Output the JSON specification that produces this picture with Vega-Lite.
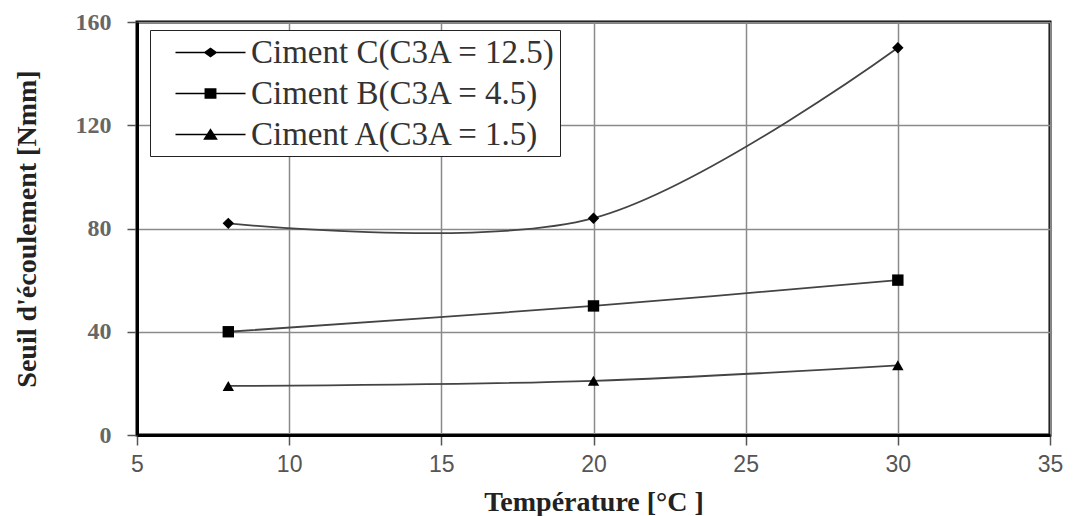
{
  "$schema": "https://vega.github.io/schema/vega-lite/v6.json",
  "autosize": "none",
  "width": 913,
  "height": 413,
  "padding": {"left": 137, "top": 22, "right": 24, "bottom": 81},
  "background": "white",
  "config": {
    "view": {"stroke": "black", "strokeWidth": 3},
    "axis": {"gridColor": "#8a8a8a", "gridWidth": 1.5, "gridOpacity": 1, "domainColor": "black", "domainWidth": 3, "tickColor": "#555", "tickWidth": 1.5, "tickSize": 10}
  },
  "data": {
    "values": [
      {"serie": "Ciment C(C3A = 12.5)", "t": 8, "v": 82},
      {"serie": "Ciment C(C3A = 12.5)", "t": 20, "v": 84},
      {"serie": "Ciment C(C3A = 12.5)", "t": 30, "v": 150},
      {"serie": "Ciment B(C3A = 4.5)", "t": 8, "v": 40},
      {"serie": "Ciment B(C3A = 4.5)", "t": 20, "v": 50},
      {"serie": "Ciment B(C3A = 4.5)", "t": 30, "v": 60},
      {"serie": "Ciment A(C3A = 1.5)", "t": 8, "v": 19},
      {"serie": "Ciment A(C3A = 1.5)", "t": 20, "v": 21},
      {"serie": "Ciment A(C3A = 1.5)", "t": 30, "v": 27}
    ]
  },
  "encoding": {
    "x": {
      "field": "t", "type": "quantitative",
      "scale": {"domain": [5, 35], "nice": false, "zero": false},
      "axis": {"values": [5, 10, 15, 20, 25, 30, 35], "title": "Température [°C ]", "titleFont": "Liberation Serif", "titleFontSize": 28, "titleFontWeight": "bold", "titleColor": "#222", "titlePadding": 12, "labelFont": "Liberation Sans", "labelFontSize": 23, "labelColor": "#555", "labelPadding": 8, "labelFlush": false}
    },
    "y": {
      "field": "v", "type": "quantitative",
      "scale": {"domain": [0, 160], "nice": false},
      "axis": {"values": [0, 40, 80, 120, 160], "title": "Seuil d'écoulement [Nmm]", "titleFont": "Liberation Serif", "titleFontSize": 28, "titleFontWeight": "bold", "titleColor": "#222", "titlePadding": 34, "labelFont": "Liberation Serif", "labelFontSize": 24, "labelFontWeight": "bold", "labelColor": "#666", "labelPadding": 16}
    }
  },
  "resolve": {"scale": {"shape": "independent"}, "legend": {"shape": "independent"}},
  "layer": [
    {
      "mark": {"type": "line", "interpolate": "catmull-rom", "color": "#444", "strokeWidth": 1.8},
      "encoding": {"detail": {"field": "serie"}}
    },
    {
      "mark": {"type": "point", "filled": true, "color": "black", "opacity": 1, "size": 130},
      "encoding": {
        "shape": {
          "field": "serie", "type": "nominal",
          "scale": {"domain": ["Ciment C(C3A = 12.5)", "Ciment B(C3A = 4.5)", "Ciment A(C3A = 1.5)"], "range": ["diamond", "square", "triangle-up"]},
          "legend": null
        }
      }
    },
    {
      "data": {"values": []},
      "mark": {"type": "point", "filled": true, "color": "black", "opacity": 1},
      "encoding": {
        "shape": {
          "field": "serie", "type": "nominal",
          "scale": {"domain": ["Ciment C(C3A = 12.5)", "Ciment B(C3A = 4.5)", "Ciment A(C3A = 1.5)"], "range": ["M-2,-0.045L2,-0.045L2,0.045L-2,0.045ZM0,-0.29L0.4,0L0,0.29L-0.4,0Z", "M-2,-0.045L2,-0.045L2,0.045L-2,0.045ZM-0.34,-0.3L0.34,-0.3L0.34,0.3L-0.34,0.3Z", "M-2,-0.045L2,-0.045L2,0.045L-2,0.045ZM0,-0.36L0.42,0.3L-0.42,0.3Z"]},
          "legend": {
            "title": null,
            "orient": "none",
            "legendX": 13,
            "legendY": 8,
            "padding": 4,
            "fillColor": "white",
            "strokeColor": "#222",
            "labelFont": "Liberation Serif",
            "labelFontSize": 33,
            "labelColor": "#333",
            "labelOffset": 22,
            "labelLimit": 600,
            "rowPadding": 5,
            "symbolSize": 1225,
            "symbolOffset": 38,
            "symbolFillColor": "black",
            "symbolOpacity": 1,
            "encode": {
              "legend": {"update": {"strokeWidth": {"value": 2}}}
            }
          }
        }
      }
    }
  ]
}
